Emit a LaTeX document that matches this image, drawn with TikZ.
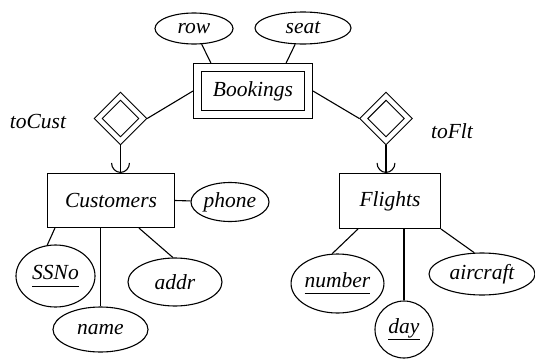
\documentclass[tikz,border=0pt]{standalone}
\usepackage{fontspec}
\setmainfont{Liberation Serif}
\usetikzlibrary{calc,shapes.geometric,arrows.meta}
\newcommand{\keyattr}[1]{\underline{#1\vphantom{y}}}
\tikzset{%
  ent/.style={draw,shape=rectangle,inner sep=0,line width=1.1pt},
  went/.style={ent,double,double distance=6.8pt,outer sep=4.5pt},
  attr/.style={draw,shape=ellipse,inner sep=0,line width=1.1pt},
  wrel/.style={draw,shape=diamond,inner sep=0,minimum size=47pt,line width=1.1pt,
    double,double distance=4.4pt,outer sep=3.2pt},
  link/.style={line width=1.1pt},
  onearrow/.style={link,-{Arc Barb[arc=180,width=19pt,length=10pt,line width=1.1pt]}}
}
\begin{document}
\begin{tikzpicture}[x=1pt,y=-1pt,font=\fontsize{21.5}{24}\selectfont\itshape]
    \useasboundingbox (0,0) rectangle (535,359);
    \path
      (253,91) node (bookings)[went,minimum width=111pt,minimum height=46.5pt]{Bookings}
      (194,28.5) node (row)[attr,minimum width=78pt,minimum height=31pt]{row}
      (303,28) node (seat)[attr,minimum width=96pt,minimum height=32pt]{seat}
      (120.5,118.5) node (tocust)[wrel]{}
      (386,118.5) node (toflt)[wrel]{}
      (38,122) node (tocustlbl){toCust}
      (452,131) node (tofltlbl){toFlt}
      (111,200.5) node (customers)[ent,minimum width=127pt,minimum height=54pt]{Customers}
      (390,201) node (flights)[ent,minimum width=101pt,minimum height=55pt]{Flights}
      (230,202) node (phone)[attr,minimum width=78pt,minimum height=39pt]{phone}
      (55.5,276) node (ssno)[attr,minimum width=79pt,minimum height=62pt]{\keyattr{SSNo}}
      (100.5,329.5) node (name)[attr,minimum width=95pt,minimum height=45pt]{name}
      (175,282) node (addr)[attr,minimum width=94pt,minimum height=48pt]{addr}
      (337.5,283.5) node (number)[attr,minimum width=91pt,minimum height=59pt]{\keyattr{number}}
      (404,329.5) node (day)[attr,minimum width=58pt,minimum height=57pt]{\keyattr{day}}
      (482,274) node (aircraft)[attr,minimum width=106pt,minimum height=42pt]{aircraft};
    \draw[link] (row) -- ([xshift=18pt]bookings.north west);
    \draw[link] (seat) -- ([xshift=-27pt]bookings.north east);
    \draw[link] (bookings.west) -- (tocust.east);
    \draw[link] (bookings.east) -- (toflt.west);
    \draw[onearrow] (tocust.south) -- (tocust.south |- customers.north);
    \draw[onearrow] (toflt.south) -- (toflt.south |- flights.north);
    \draw[link] (customers.east) -- (phone);
    \draw[link] ([xshift=8pt]customers.south west) -- (ssno.105);
    \draw[link] (name.north |- customers.south) -- (name);
    \draw[link] ([xshift=92pt]customers.south west) -- (addr.95);
    \draw[link] ([xshift=19pt]flights.south west) -- (number.100);
    \draw[link] (day.north |- flights.south) -- (day);
    \draw[link] (flights.south east) -- (aircraft.110);
  \end{tikzpicture}
\end{document}
